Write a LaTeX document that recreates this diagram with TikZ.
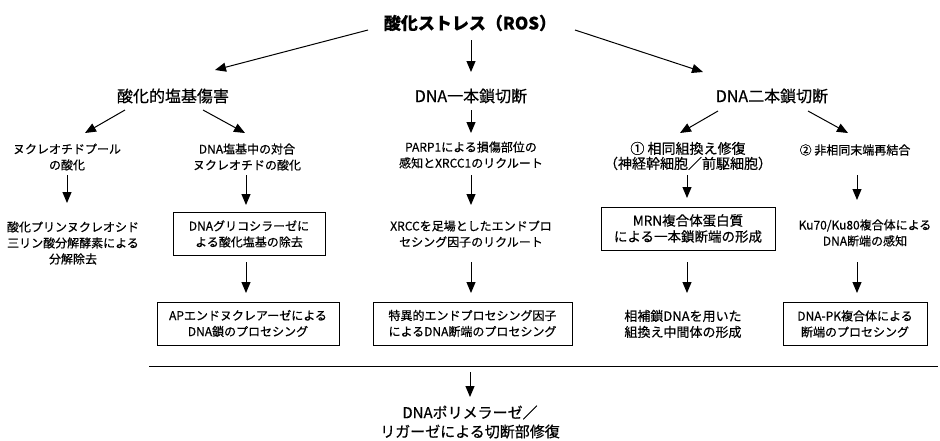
\documentclass[tikz,border=0pt]{standalone}
\usepackage{fontspec}
\setmainfont{Noto Sans CJK JP}[FakeBold=0.5]
\usetikzlibrary{arrows.meta,calc}
\begin{document}
\begin{tikzpicture}[x=1pt,y=-1pt,
  arr/.style={-{Triangle[length=11pt,width=9pt]}, line width=1pt},
  txt/.style={align=center, inner sep=0pt, font=\fontsize{12}{16}\selectfont},
  big/.style={align=center, inner sep=0pt, font=\fontsize{16}{19}\selectfont},
  ttl/.style={align=center, inner sep=0pt, font=\fontsize{17}{20}\selectfont\bfseries},
  boxed/.style={txt, draw, line width=1pt, minimum height=43pt},
]
\useasboundingbox (0,0) rectangle (940,440);
\node[ttl] (title) at (470,23) {酸化ストレス（ROS）};
\node[big] (L1a) at (173,96) {酸化的塩基傷害};
\node[big] (L1b) at (471,96) {DNA一本鎖切断};
\node[big] (L1c) at (772,96) {DNA二本鎖切断};
\node[txt] (A1) at (67,157) {ヌクレオチドプール\\の酸化};
\node[txt] (A2) at (247,157) {DNA塩基中の対合\\ヌクレオチドの酸化};
\node[txt] (A3) at (73,243) {酸化プリンヌクレオシド\\三リン酸分解酵素による\\分解除去};
\node[boxed, minimum width=152pt] (A4) at (249,234) {DNAグリコシラーゼに\\よる酸化塩基の除去};
\node[boxed, minimum width=182pt] (A5) at (248,323.5) {APエンドヌクレアーゼによる\\DNA鎖のプロセシング};
\node[txt] (B1) at (471,155) {PARP1による損傷部位の\\感知とXRCC1のリクルート};
\node[txt] (B2) at (471,234) {XRCCを足場としたエンドプロ\\セシング因子のリクルート};
\node[boxed, minimum width=199pt] (B3) at (472.5,323.5) {特異的エンドプロセシング因子\\によるDNA断端のプロセシング};
\node[txt, font=\fontsize{14}{15}\selectfont] (C1) at (688,156) {① 相同組換え修復\\（神経幹細胞／前駆細胞）};
\node[boxed, minimum width=174pt, font=\fontsize{13.5}{16}\selectfont] (C2) at (688,228.5) {MRN複合体蛋白質\\による一本鎖断端の形成};
\node[txt, font=\fontsize{13}{16}\selectfont] (C3) at (683,324) {相補鎖DNAを用いた\\組換え中間体の形成};
\node[txt] (C4) at (855,150) {② 非相同末端再結合};
\node[txt] (C5) at (865,233) {Ku70/Ku80複合体による\\DNA断端の感知};
\node[boxed, minimum width=144pt] (C6) at (855,324) {DNA-PK複合体による\\断端のプロセシング};
\node[txt, font=\fontsize{15}{19}\selectfont] (D) at (470,422) {DNAポリメラーゼ／\\リガーゼによる切断部修復};
\coordinate (r1) at (149,366);
\coordinate (r2) at (938,366);
\coordinate (rm) at (470,366);
\draw[line width=1pt] (r1) -- (r2);
\draw[arr] ($(title)+(-102,7)$) -- ($(L1a)+(42,-26)$);
\draw[arr] ($(title)+(1,17)$) -- ($(L1b)+(0,-24)$);
\draw[arr] ($(title)+(105,7)$) -- ($(L1c)+(-69,-24)$);
\draw[arr] ($(L1a)+(-48,14)$) -- ($(A1)+(18,-24)$);
\draw[arr] ($(L1a)+(30,14)$) -- ($(A2)+(-2,-24)$);
\draw[arr] ($(A1)+(0,18)$) -- ($(A3)+(-6,-40)$);
\draw[arr] ($(A2)+(-1,18)$) -- ($(A4)+(-3,-29)$);
\draw[arr] ($(A4)+(-3,28)$) -- ($(A5)+(-2,-30.5)$);
\draw[arr] ($(L1b)+(0,14)$) -- ($(B1)+(0,-22)$);
\draw[arr] ($(B1)+(0,20)$) -- ($(B2)+(0,-29)$);
\draw[arr] ($(B2)+(0,28)$) -- ($(B3)+(-1.5,-30.5)$);
\draw[arr] ($(L1c)+(-54,15)$) -- ($(C1)+(-8,-23)$);
\draw[arr] ($(L1c)+(36,15)$) -- ($(C4)+(-7,-17)$);
\draw[arr] ($(C1)+(-1,19)$) -- ($(C2)+(-1,-30.5)$);
\draw[arr] ($(C2)+(-1,33.5)$) -- ($(C3)+(4,-31)$);
\draw[arr] ($(C4)+(2,25)$) -- ($(C5)+(-8,-33)$);
\draw[arr] ($(C5)+(-8,29)$) -- ($(C6)+(2,-31)$);
\draw[arr] ($(rm)+(0,6)$) -- ($(D)+(0,-25)$);
\end{tikzpicture}
\end{document}
